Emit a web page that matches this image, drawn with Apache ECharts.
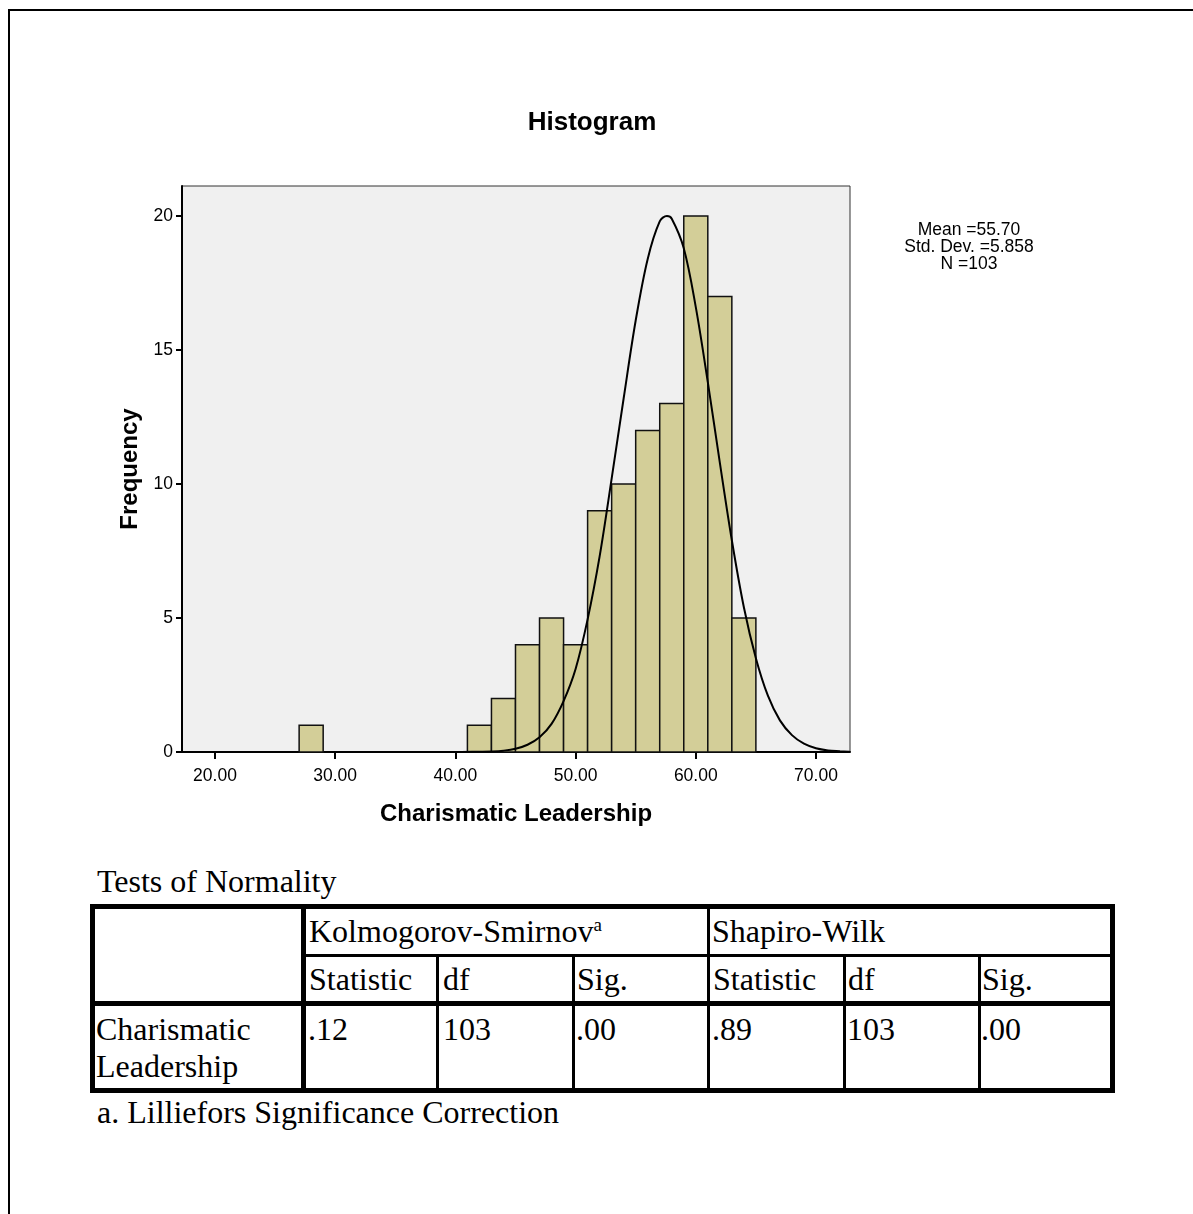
<!DOCTYPE html>
<html>
<head>
<meta charset="utf-8">
<script src="https://cdn.jsdelivr.net/npm/echarts@6/dist/echarts.min.js"></script>
<style>
  html, body { margin: 0; padding: 0; background: #fff; }
  #page { position: relative; width: 1193px; height: 1214px; overflow: hidden; }
  #frame { position: absolute; left: 8px; top: 9px; width: 1300px; height: 1300px; border-top: 2px solid #000; border-left: 2px solid #000; }
  #chart { position: absolute; left: 0; top: 0; width: 1193px; height: 860px; }
  .t { position: absolute; font-family: 'Liberation Serif', 'Times New Roman', serif; font-size: 32px; line-height: 32px; color: #000; white-space: nowrap; }
  .t sup { font-size: 19px; line-height: 0; vertical-align: 0; position: relative; top: -11px; }
  .ln { position: absolute; background: #000; }
</style>
</head>
<body>
<div id="page">
  <div id="frame"></div>
  <div id="chart"></div>
  <div id="table"></div>
</div>
<script>
// ---- data ----
const binStarts   = [27, 41, 43, 45, 47, 49, 51, 53, 55, 57, 59, 61, 63];
const binWidth    = 2;
const frequencies = [1, 1, 2, 4, 5, 4, 9, 10, 12, 13, 20, 17, 5];

const curveX = [40.5, 42, 43, 44, 45, 46, 47, 48, 49, 50, 51, 52, 53, 54, 55, 56, 57, 57.6, 58, 59, 60, 61, 62, 63, 64, 65, 66, 67, 68, 69, 70, 71, 72, 72.8];
const curveY = [0, 0.01, 0.02, 0.05, 0.12, 0.27, 0.55, 1.05, 1.9, 3.1, 4.95, 7.3, 10.2, 13.2, 16.1, 18.4, 19.8, 20, 19.9, 18.8, 16.6, 13.8, 10.8, 7.9, 5.4, 3.5, 2.1, 1.18, 0.63, 0.31, 0.14, 0.06, 0.03, 0.01];

const xTicks = [20, 30, 40, 50, 60, 70];
const yTicks = [0, 5, 10, 15, 20];

const chartTitle = 'Histogram';
const xName = 'Charismatic Leadership';
const yName = 'Frequency';
const statsLines = ['Mean =55.70', 'Std. Dev. =5.858', 'N =103'];

const tableTitle = 'Tests of Normality';
const groupHeaders = ['Kolmogorov-Smirnov', 'Shapiro-Wilk'];
const colHeaders = ['Statistic', 'df', 'Sig.', 'Statistic', 'df', 'Sig.'];
const rowLabel = ['Charismatic', 'Leadership'];
const rowValues = ['.12', '103', '.00', '.89', '103', '.00'];
const footnote = 'a. Lilliefors Significance Correction';

// ---- chart ----
const chart = echarts.init(document.getElementById('chart'), null, { renderer: 'canvas' });
const sans = "'Liberation Sans', Arial, sans-serif";

const barData = binStarts.map((s, i) => [s, s + binWidth, frequencies[i]]);
const curveData = curveX.map((x, i) => [x, curveY[i]]);

chart.setOption({
  animation: false,
  backgroundColor: 'transparent',
  graphic: [
    { type: 'text', x: 592, y: 123, style: { text: chartTitle, fontFamily: sans, fontSize: 26, fontWeight: 'bold', fill: '#000', align: 'center', verticalAlign: 'middle' } },
    { type: 'text', x: 969, y: 247, style: { text: statsLines.join('\n'), fontFamily: sans, fontSize: 17.5, lineHeight: 17, fill: '#000', align: 'center', verticalAlign: 'middle' } }
  ],
  grid: {
    left: 182, top: 186, width: 668, height: 566,
    show: true, backgroundColor: '#f0f0f0', borderColor: '#333', borderWidth: 1
  },
  xAxis: {
    type: 'value', min: 17.255, max: 72.83,
    name: xName, nameLocation: 'middle', nameGap: 50,
    nameTextStyle: { fontFamily: sans, fontSize: 24, fontWeight: 'bold', color: '#000' },
    axisLine: { show: true, onZero: false, lineStyle: { color: '#000', width: 2 } },
    axisTick: { show: true, customValues: xTicks, length: 7, lineStyle: { color: '#000', width: 2 } },
    axisLabel: { customValues: xTicks, formatter: v => v.toFixed(2), fontFamily: sans, fontSize: 17.5, color: '#000', margin: 15 },
    splitLine: { show: false }
  },
  yAxis: {
    type: 'value', min: 0, max: 21.12,
    name: yName, nameLocation: 'middle', nameGap: 40, nameRotate: 90,
    nameTextStyle: { fontFamily: sans, fontSize: 24, fontWeight: 'bold', color: '#000' },
    axisLine: { show: true, lineStyle: { color: '#000', width: 2 } },
    axisTick: { show: true, customValues: yTicks, length: 6, lineStyle: { color: '#000', width: 2 } },
    axisLabel: { customValues: yTicks, fontFamily: sans, fontSize: 17.5, color: '#000', margin: 9 },
    splitLine: { show: false }
  },
  series: [
    {
      type: 'custom',
      data: barData,
      encode: { x: [0, 1], y: 2 },
      renderItem: function (params, api) {
        const p0 = api.coord([api.value(0), api.value(2)]);
        const p1 = api.coord([api.value(1), 0]);
        return {
          type: 'rect',
          shape: { x: p0[0], y: p0[1], width: p1[0] - p0[0], height: p1[1] - p0[1] },
          style: { fill: '#d3ce98', stroke: '#111', lineWidth: 1.5 }
        };
      },
      z: 2
    },
    {
      type: 'line',
      data: curveData,
      smooth: 0.35,
      symbol: 'none',
      lineStyle: { color: '#000', width: 2 },
      z: 3
    }
  ]
});

// ---- table (HTML text) ----
const tbl = document.getElementById('table');
function addText(txt, left, top, html) {
  const d = document.createElement('div');
  d.className = 't';
  d.style.left = left + 'px';
  d.style.top = top + 'px';
  if (html) d.innerHTML = txt; else d.textContent = txt;
  tbl.appendChild(d);
}
function addLine(left, top, w, h) {
  const d = document.createElement('div');
  d.className = 'ln';
  d.style.left = left + 'px'; d.style.top = top + 'px';
  d.style.width = w + 'px'; d.style.height = h + 'px';
  tbl.appendChild(d);
}
// lines
addLine(90, 904, 1025, 5);    // top
addLine(90, 1088, 1025, 5);   // bottom
addLine(90, 904, 5, 189);     // left
addLine(1110, 904, 5, 189);   // right
addLine(301, 904, 5, 189);    // after row label
addLine(707, 904, 3, 189);    // between groups
[436, 572, 843, 978].forEach(x => addLine(x, 955, 3, 138));
addLine(306, 954, 804, 3);    // under group header
addLine(90, 1001, 1025, 5);   // under column header

// texts
addText(tableTitle, 97, 865);
addText(groupHeaders[0] + '<sup>a</sup>', 309, 915, true);
addText(groupHeaders[1], 712, 915);
const colLefts = [309, 443, 577, 713, 848, 982];
colHeaders.forEach((h, i) => addText(h, colLefts[i], 963));
addText(rowLabel[0], 96, 1013);
addText(rowLabel[1], 96, 1050);
const valLefts = [308, 443, 576, 712, 847, 981];
rowValues.forEach((v, i) => addText(v, valLefts[i], 1013));
addText(footnote, 97, 1096);
</script>
</body>
</html>
